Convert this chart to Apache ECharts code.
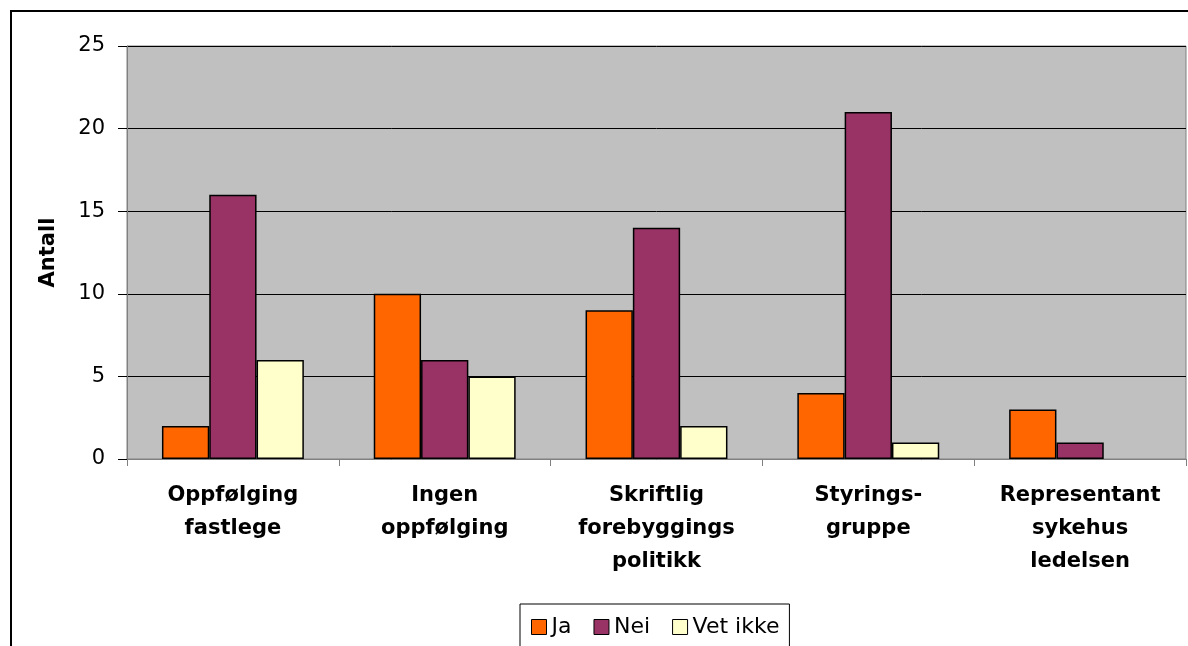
<!DOCTYPE html>
<html>
<head>
<meta charset="utf-8">
<title>Antall</title>
<script src="https://cdn.jsdelivr.net/npm/echarts@6/dist/echarts.min.js"></script>
<style>
  html, body { margin: 0; padding: 0; background: #fff; }
  #chart { width: 1188px; height: 646px; }
</style>
</head>
<body>
<div id="chart"></div>
<script>
// Categories (multi-line labels) and answer counts per series
const categories = [
  'Oppfølging\nfastlege',
  'Ingen\noppfølging',
  'Skriftlig\nforebyggings\npolitikk',
  'Styrings-\ngruppe',
  'Representant\nsykehus\nledelsen'
];
const ja      = [2, 10, 9, 4, 3];
const nei     = [16, 6, 14, 21, 1];
const vetIkke = [6, 5, 2, 1, 0];
const seriesNames = ['Ja', 'Nei', 'Vet ikke'];
const seriesColors = ['#FF6600', '#993366', '#FFFFCC'];

const FONT = 'DejaVu Sans';

// Zero-valued bars get no outline so nothing is drawn on the axis
function barData(values) {
  return values.map(v => v === 0 ? { value: 0, itemStyle: { borderWidth: 0 } } : v);
}

const chart = echarts.init(document.getElementById('chart'), null, { renderer: 'canvas' });

chart.setOption({
  animation: false,
  backgroundColor: '#ffffff',
  textStyle: { fontFamily: FONT },
  graphic: [
    {
      // frame around the chart (left and top edges fall inside the page)
      type: 'polyline',
      z: -1,
      shape: { points: [[11, 700], [11, 11], [1200, 11]] },
      style: { fill: null, stroke: '#000', lineWidth: 2 }
    }
  ],
  grid: {
    left: 127, right: 2, top: 46, bottom: 187,
    show: true,
    backgroundColor: '#C0C0C0',
    borderColor: '#808080',
    borderWidth: 1
  },
  legend: {
    data: seriesNames,
    left: 520,
    top: 604,
    width: 272,
    height: 41,
    padding: [12, 10, 12, 11],
    itemWidth: 15,
    itemHeight: 15,
    itemGap: 22,
    icon: 'rect',
    backgroundColor: '#fff',
    borderColor: '#000',
    borderWidth: 1,
    borderRadius: 0,
    itemStyle: { borderColor: '#000', borderWidth: 1 },
    textStyle: { fontFamily: FONT, fontSize: 22, color: '#000' }
  },
  xAxis: {
    type: 'category',
    data: categories,
    axisLine: { show: true, lineStyle: { color: '#808080', width: 1 } },
    axisTick: { show: true, length: 7, lineStyle: { color: '#808080' } },
    axisLabel: {
      interval: 0,
      margin: 20,
      fontFamily: FONT,
      fontSize: 21,
      fontWeight: 'bold',
      lineHeight: 33,
      color: '#000',
      align: 'center'
    },
    splitLine: { show: false }
  },
  yAxis: {
    type: 'value',
    min: 0,
    max: 25,
    interval: 5,
    name: 'Antall',
    nameLocation: 'middle',
    nameRotate: 90,
    nameGap: 68,
    nameTextStyle: { fontFamily: FONT, fontSize: 21, fontWeight: 'bold', color: '#000' },
    axisLine: { show: true, lineStyle: { color: '#808080', width: 1 } },
    axisTick: { show: true, length: 9, lineStyle: { color: '#000' } },
    axisLabel: { margin: 22, fontFamily: FONT, fontSize: 21, color: '#000' },
    splitLine: { show: true, lineStyle: { color: '#000', width: 1 } }
  },
  series: [
    {
      name: seriesNames[0], type: 'bar', data: barData(ja),
      barGap: '0%', barCategoryGap: '33%',
      itemStyle: { color: seriesColors[0], borderColor: '#000', borderWidth: 1.5 }
    },
    {
      name: seriesNames[1], type: 'bar', data: barData(nei),
      barGap: '0%', barCategoryGap: '33%',
      itemStyle: { color: seriesColors[1], borderColor: '#000', borderWidth: 1.5 }
    },
    {
      name: seriesNames[2], type: 'bar', data: barData(vetIkke),
      barGap: '0%', barCategoryGap: '33%',
      itemStyle: { color: seriesColors[2], borderColor: '#000', borderWidth: 1.5 }
    }
  ]
});
</script>
</body>
</html>
